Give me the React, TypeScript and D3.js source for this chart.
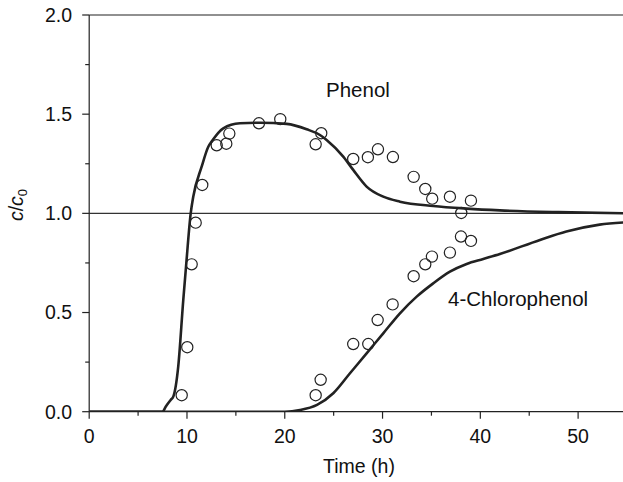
import React from "react";
import * as d3 from "d3";

const phenolT = [9.46, 10.03, 10.48, 10.89, 11.56, 13.04, 14.02, 14.33, 17.36, 19.54, 23.16, 23.73, 27.0, 28.5, 29.53, 31.06, 33.18, 34.37, 35.08, 36.89, 38.05, 39.04];
const phenolV = [0.083, 0.325, 0.743, 0.953, 1.143, 1.343, 1.351, 1.402, 1.454, 1.475, 1.348, 1.404, 1.274, 1.283, 1.323, 1.284, 1.184, 1.123, 1.074, 1.084, 1.002, 1.064];

const cpT = [23.16, 23.67, 27.0, 28.54, 29.5, 31.03, 33.18, 34.37, 35.05, 36.89, 38.02, 39.04];
const cpV = [0.083, 0.161, 0.341, 0.341, 0.462, 0.541, 0.683, 0.743, 0.782, 0.802, 0.883, 0.861];

const phenolFitT = [0, 7.5, 7.82, 8.33, 8.6, 9.11, 9.62, 9.9, 10.38, 10.64, 11.5, 12.18, 12.52, 13.71, 15.42, 17.46, 20.19, 22.24, 23.6, 24.28, 25.98, 27.0, 28.37, 30.07, 31.78, 35.18, 38.6, 42, 48, 55];
const phenolFitV = [0, 0, 0.025, 0.059, 0.076, 0.23, 0.563, 0.73, 1.0, 1.084, 1.235, 1.336, 1.362, 1.429, 1.454, 1.457, 1.451, 1.424, 1.395, 1.37, 1.286, 1.219, 1.135, 1.084, 1.059, 1.037, 1.024, 1.015, 1.006, 1.0];

const cpFitT = [0, 20, 21.55, 23.3, 24.96, 26.67, 28.37, 30.07, 31.78, 33.49, 35.18, 36.89, 38.6, 40.3, 42, 46.1, 48.8, 52.2, 55];
const cpFitV = [0, 0, 0.008, 0.034, 0.093, 0.194, 0.294, 0.395, 0.496, 0.58, 0.647, 0.706, 0.745, 0.77, 0.795, 0.866, 0.908, 0.943, 0.955];

const xMajor = [0, 10, 20, 30, 40, 50];
const xMinor = [5, 15, 25, 35, 45];
const yMajor = [0, 0.5, 1.0, 1.5, 2.0];
const yMinor = [0.25, 0.75, 1.25, 1.75];

export default function App() {
  const W = 623, H = 482;
  const x = d3.scaleLinear().domain([0, 55]).range([89.2, 627]);
  const y = d3.scaleLinear().domain([0, 2]).range([411.7, 15]);
  const line = d3
    .line<[number, number]>()
    .x((d) => x(d[0]))
    .y((d) => y(d[1]))
    .curve(d3.curveMonotoneX);
  const phenolFit = line(phenolFitT.map((t, i) => [t, phenolFitV[i]]) as [number, number][]) || "";
  const cpFit = line(cpFitT.map((t, i) => [t, cpFitV[i]]) as [number, number][]) || "";
  const font = "Liberation Sans, Arial, Helvetica, sans-serif";
  const ink = "#222";
  const x0 = x(0), y0 = y(0);
  return (
    <svg
      width={W}
      height={H}
      style={{ position: "absolute", left: 0, top: 0, background: "#fff" }}
      fontFamily={font}
    >
      <defs>
        <clipPath id="plot">
          <rect x={x0} y={y(2)} width={W - x0} height={y0 - y(2)} />
        </clipPath>
      </defs>
      {/* top frame */}
      <line x1={x0} x2={W} y1={y(2)} y2={y(2)} stroke={ink} strokeWidth={1.2} />
      {/* reference line at 1.0 */}
      <line x1={x0} x2={W} y1={y(1)} y2={y(1)} stroke="#333" strokeWidth={1.3} />
      {/* axes */}
      <line x1={x0} x2={x0} y1={y(2)} y2={y0} stroke={ink} strokeWidth={1.2} />
      <line x1={x0} x2={W} y1={y0} y2={y0} stroke={ink} strokeWidth={1.2} />
      {xMajor.map((t) => (
        <g key={"xm" + t}>
          <line x1={x(t)} x2={x(t)} y1={y0} y2={y0 + 7} stroke={ink} strokeWidth={1.2} />
          <text x={x(t)} y={443} fontSize={19.5} textAnchor="middle" fill="#111">
            {t}
          </text>
        </g>
      ))}
      {xMinor.map((t) => (
        <line key={"xn" + t} x1={x(t)} x2={x(t)} y1={y0} y2={y0 + 4} stroke={ink} strokeWidth={1.2} />
      ))}
      {yMajor.map((v) => (
        <g key={"ym" + v}>
          <line x1={x0 - 7} x2={x0} y1={y(v)} y2={y(v)} stroke={ink} strokeWidth={1.2} />
          <text x={72} y={y(v) + 6.8} fontSize={19.5} textAnchor="end" fill="#111">
            {v.toFixed(1)}
          </text>
        </g>
      ))}
      {yMinor.map((v) => (
        <line key={"yn" + v} x1={x0 - 4} x2={x0} y1={y(v)} y2={y(v)} stroke={ink} strokeWidth={1.2} />
      ))}
      {/* fitted curves */}
      <g clipPath="url(#plot)">
        <path d={phenolFit} fill="none" stroke={ink} strokeWidth={2.6} />
        <path d={cpFit} fill="none" stroke={ink} strokeWidth={2.6} />
      </g>
      {/* data points */}
      {phenolT.map((t, i) => (
        <circle key={"p" + i} cx={x(t)} cy={y(phenolV[i])} r={5.6} fill="none" stroke={ink} strokeWidth={1.2} />
      ))}
      {cpT.map((t, i) => (
        <circle key={"c" + i} cx={x(t)} cy={y(cpV[i])} r={5.6} fill="none" stroke={ink} strokeWidth={1.2} />
      ))}
      {/* annotations */}
      <text x={326} y={97} fontSize={20.5} fill="#111">Phenol</text>
      <text x={448} y={306} fontSize={20.5} fill="#111">4-Chlorophenol</text>
      {/* axis titles */}
      <text x={359} y={473} fontSize={19.5} textAnchor="middle" fill="#111">Time (h)</text>
      <text
        transform={`translate(23,${205}) rotate(-90)`}
        fontSize={19.5}
        textAnchor="middle"
        fill="#111"
      >
        <tspan fontStyle="italic">c</tspan>
        <tspan>/</tspan>
        <tspan fontStyle="italic">c</tspan>
        <tspan fontSize={13} dy={4}>0</tspan>
      </text>
    </svg>
  );
}
